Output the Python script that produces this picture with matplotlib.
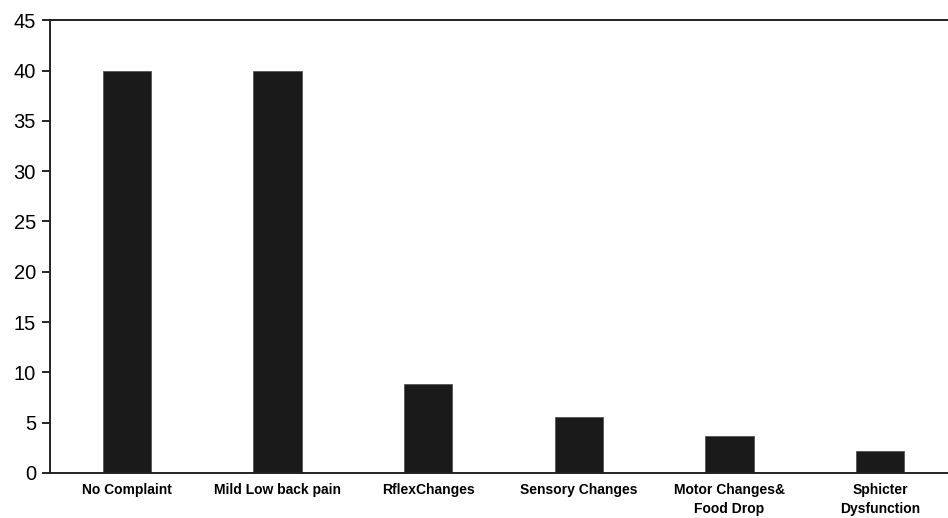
import numpy as np
import matplotlib.pyplot as plt

categories = ['No Complaint', 'Mild Low back pain', 'RflexChanges',
              'Sensory Changes', 'Motor Changes&\nFood Drop', 'Sphicter\nDysfunction']
values = [40, 40, 8.8, 5.6, 3.7, 2.2]

fig = plt.figure(figsize=(9.48, 5.18), dpi=100)
ax = fig.add_axes([0.0527, 0.087, 0.9473, 0.874])

x = np.arange(len(categories))
ax.bar(x, values, width=0.32, color='#1a1a1a', edgecolor='#555555', linewidth=0.6)

ax.set_xlim(-0.51, 5.45)
ax.set_ylim(0, 45)
ax.set_yticks(np.arange(0, 46, 5))
ax.set_xticks(x)
ax.set_xticklabels(categories, fontsize=10, fontweight='bold', family='Liberation Sans', linespacing=1.45)
ax.tick_params(axis='x', length=0, pad=7)
ax.tick_params(axis='y', length=6, width=1.2, labelsize=14.5, pad=4)
for lab in ax.get_yticklabels():
    lab.set_family('Liberation Sans')

ax.spines['right'].set_visible(False)
for s in ['left', 'bottom', 'top']:
    ax.spines[s].set_linewidth(1.4)
    ax.spines[s].set_color('#222222')

fig.savefig('out.png', dpi=100)
